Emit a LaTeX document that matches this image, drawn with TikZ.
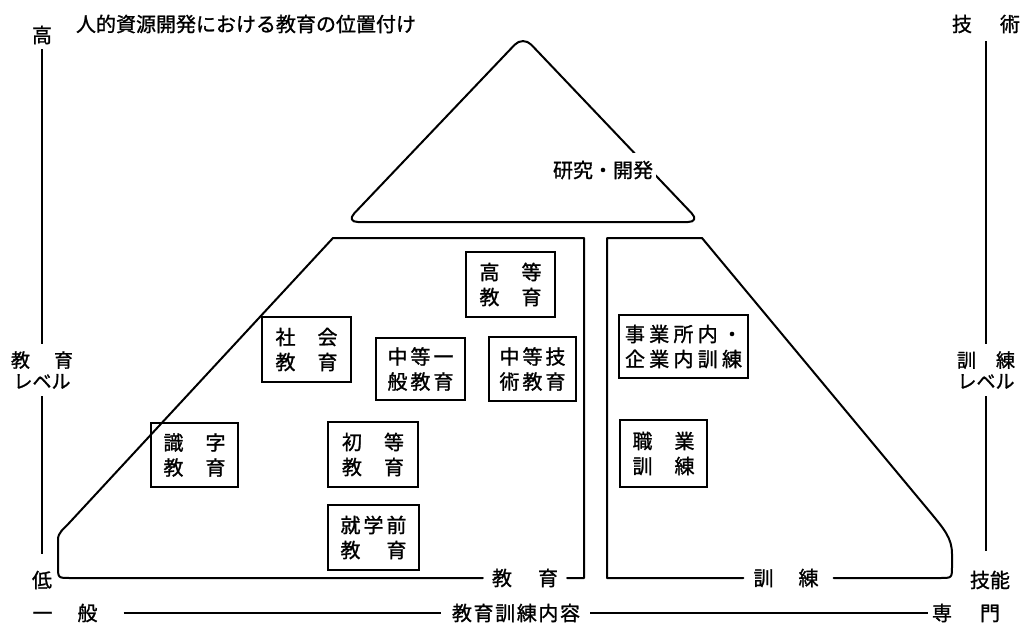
\documentclass[tikz,border=0pt]{standalone}
\usepackage{fontspec}
\setmainfont{Noto Sans CJK JP}[FakeBold=1.2]
\newcommand\tw[2]{\makebox[62pt]{#1\hfill#2}}
\newcommand\trio[3]{\makebox[66pt]{#1\hfill#2\hfill#3}}
\begin{document}
\begin{tikzpicture}[x=1pt,y=-1pt,
  txt/.style={inner sep=0pt, font=\fontsize{20}{25}\selectfont},
  box/.style={draw, line width=1.5pt, inner sep=0pt, minimum width=89pt, minimum height=65pt, align=center, font=\fontsize{20}{25}\selectfont},
  lvl/.style={inner sep=0pt, align=center, font=\fontsize{19}{21}\selectfont},
  outline/.style={line width=2pt, line join=round, line cap=round},
  axisline/.style={line width=1.4pt}]
\useasboundingbox (0,0) rectangle (1023,624);
\fill[white] (0,0) rectangle (1023,624);

% title
\node[txt] (title) at (246,24) {人的資源開発における教育の位置付け};

% left axis
\node[txt] (hi) at (42,35) {高};
\node[txt] (lo) at (42,580) {低};
\draw[axisline, shorten <=5pt, shorten >=17pt] (hi.south) -- (hi.south |- lo.north);
\node[lvl, fill=white, inner ysep=7pt] (edulvl) at (42,370) {\makebox[62pt]{教\hfill 育}\\レベル};

% right axis
\node[txt] (tech) at (986,24) {\makebox[68pt]{技\hfill 術}};
\node[txt] (skill) at (990,580) {技能};
\draw[axisline, shorten <=8pt, shorten >=20pt] (tech.south) -- (tech.south |- skill.north);
\node[lvl, fill=white, inner ysep=7pt] (trlvl) at (986,370) {\makebox[58pt]{訓\hfill 練}\\レベル};

% bottom axis
\node[txt] (gen) at (65,613) {\makebox[65pt]{一\hfill 般}};
\node[txt] (content) at (516,613) {\makebox[128pt]{教\hfill 育\hfill 訓\hfill 練\hfill 内\hfill 容}};
\node[txt] (spec) at (966,613) {\makebox[68pt]{専\hfill 門}};
\draw[axisline, shorten <=26pt, shorten >=11pt] (gen.east) -- (content.west);
\draw[axisline, shorten <=10pt, shorten >=4pt] (content.east) -- (spec.west);

% top triangle
\draw[outline, rounded corners=12pt] (523,36) -- (700,222) -- (346,222) -- cycle;
\node[txt, fill=white, inner xsep=3pt, inner ysep=8pt] (rd) at (603,170) {研究・開発};

% education shape
\node[txt] (eduB) at (525,578) {\makebox[66pt]{教\hfill 育}};
\draw[outline, shorten <=9pt, shorten >=9pt] (eduB.west) -- (70,578) .. controls (58,578) .. (58,566) -- (58,540) .. controls (58,532) and (63,530) .. (71,521) -- (333,238) -- (584,238) -- (584,578) -- (eduB.east);

% training shape
\node[txt] (trB) at (786,578) {\makebox[65pt]{訓\hfill 練}};
\draw[outline, shorten <=10pt, shorten >=15pt] (trB.west) -- (607,578) -- (607,238) -- (702,238) -- (930,512) .. controls (944,529) and (952,538) .. (952,554) -- (952,566) .. controls (952,578) .. (940,578) -- (trB.east);

% boxes
\node[box] (higher) at (510.5,284.5) {\tw{高}{等}\\\tw{教}{育}};
\node[box] (social) at (306.5,349.5) {\tw{社}{会}\\\tw{教}{育}};
\node[box, minimum height=62pt] (secgen) at (420.5,369) {\trio{中}{等}{一}\\\trio{般}{教}{育}};
\node[box, minimum width=87pt, minimum height=64pt] (sectech) at (532.5,369) {\trio{中}{等}{技}\\\trio{術}{教}{育}};
\node[box, minimum width=87pt, minimum height=64pt] (literacy) at (194.5,455) {\tw{識}{字}\\\tw{教}{育}};
\node[box, minimum width=90pt] (primary) at (373,454.5) {\tw{初}{等}\\\tw{教}{育}};
\node[box, minimum width=91pt] (preschool) at (373.5,537.5) {\trio{就}{学}{前}\\\trio{教}{}{育}};
\node[box, minimum width=129pt, minimum height=63pt] (inhouse) at (683.5,346.5) {\makebox[117pt]{事\hfill 業\hfill 所\hfill 内\hfill ・}\\\makebox[117pt]{企\hfill 業\hfill 内\hfill 訓\hfill 練}};
\node[box, minimum width=87pt, minimum height=67pt] (vocational) at (663.5,453.5) {\tw{職}{業}\\\tw{訓}{練}};
\end{tikzpicture}
\end{document}
